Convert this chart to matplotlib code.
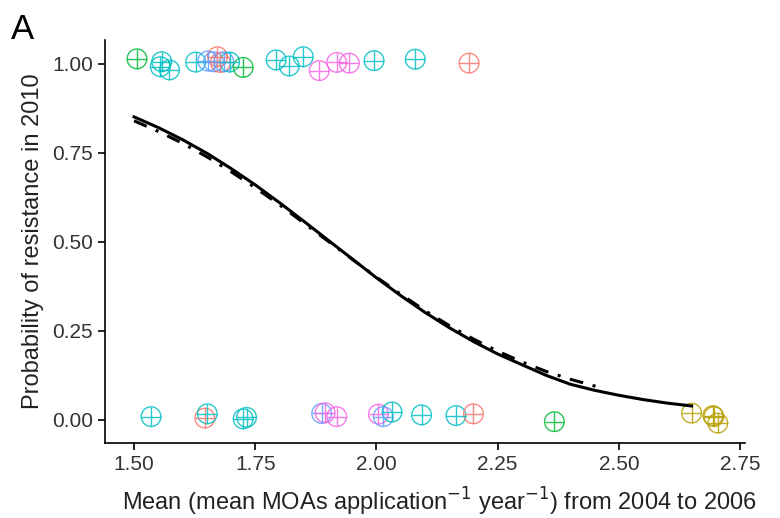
import numpy as np
import matplotlib.pyplot as plt

plt.rcParams['font.family'] = ['Liberation Sans', 'DejaVu Sans']

# group colours (ggplot hue palette)
palette = {'a': '#F8766D', 'b': '#B79F00', 'c': '#00BA38',
           'd': '#00BFC4', 'e': '#619CFF', 'f': '#F564E3'}

pts_x = [1.506, 1.557, 1.554, 1.573, 1.627, 1.652, 1.664, 1.672, 1.678,
         1.685, 1.697, 1.725, 1.793, 1.820, 1.849, 1.882, 1.918, 1.944,
         1.995, 2.080, 2.191,
         1.535, 1.646, 1.651, 1.725, 1.732, 1.887, 1.894, 1.918, 2.004,
         2.014, 2.032, 2.093, 2.164, 2.200, 2.367, 2.650, 2.694, 2.696,
         2.704]
pts_y = [1.014, 1.006, 0.992, 0.983, 1.005, 1.008, 1.006, 1.020, 1.004,
         1.006, 1.005, 0.990, 1.011, 0.994, 1.020, 0.981, 1.004, 1.002,
         1.009, 1.013, 1.002,
         0.009, 0.005, 0.017, 0.003, 0.007, 0.018, 0.020, 0.009, 0.016,
         0.009, 0.022, 0.014, 0.012, 0.017, -0.005, 0.019, 0.012, 0.009,
         -0.009]
pts_grp = ['c', 'd', 'd', 'd', 'd', 'e', 'e', 'a', 'a',
           'e', 'd', 'c', 'd', 'd', 'd', 'f', 'f', 'f',
           'd', 'd', 'a',
           'd', 'a', 'd', 'd', 'd', 'e', 'f', 'f', 'f',
           'e', 'd', 'd', 'd', 'a', 'c', 'b', 'b', 'b',
           'b']

# fitted curves
fit_x = [1.50, 1.55, 1.60, 1.65, 1.70, 1.75, 1.80, 1.85, 1.90, 1.95, 2.00, 2.05,
         2.10, 2.15, 2.20, 2.25, 2.30, 2.35, 2.40, 2.45, 2.50, 2.55, 2.60, 2.65]
fit_y = [0.851, 0.821, 0.787, 0.749, 0.706, 0.660, 0.610, 0.558, 0.505, 0.452, 0.399, 0.349,
         0.302, 0.259, 0.220, 0.185, 0.155, 0.125, 0.100, 0.083, 0.069, 0.057, 0.047, 0.039]
alt_x = [1.50, 1.55, 1.60, 1.65, 1.70, 1.75, 1.80, 1.85, 1.90, 1.95, 2.00, 2.05,
         2.10, 2.15, 2.20, 2.25, 2.30, 2.35, 2.40, 2.45, 2.467]
alt_y = [0.840, 0.810, 0.777, 0.739, 0.697, 0.652, 0.604, 0.553, 0.502, 0.451, 0.401, 0.353,
         0.307, 0.265, 0.227, 0.193, 0.163, 0.136, 0.114, 0.095, 0.089]

fig = plt.figure(figsize=(7.8, 5.18), dpi=100)
ax = fig.add_axes([0.1346, 0.1448, 0.8204, 0.778])

cols = [palette[g] for g in pts_grp]
ax.scatter(pts_x, pts_y, s=200, facecolors='none', edgecolors=cols, linewidths=1.0, alpha=0.85, zorder=2)
ax.scatter(pts_x, pts_y, s=200, marker='+', c=cols, linewidths=1.0, alpha=0.85, zorder=2)

ax.plot(fit_x, fit_y, color='black', lw=2.2, solid_joinstyle='round', zorder=3)
ax.plot(alt_x, alt_y, color='black', lw=2.2, linestyle=(0, (4.5, 3.2, 1.0, 3.2)),
        dash_capstyle='butt', zorder=3)

ax.set_xlim(1.44, 2.76)
ax.set_ylim(-0.065, 1.067)
ax.set_xticks([1.50, 1.75, 2.00, 2.25, 2.50, 2.75])
ax.set_xticklabels(['1.50', '1.75', '2.00', '2.25', '2.50', '2.75'])
ax.set_yticks([0.00, 0.25, 0.50, 0.75, 1.00])
ax.set_yticklabels(['0.00', '0.25', '0.50', '0.75', '1.00'])

for side in ['top', 'right']:
    ax.spines[side].set_visible(False)
for side in ['left', 'bottom']:
    ax.spines[side].set_linewidth(1.2)
ax.tick_params(length=5, width=1.2, labelsize=15, labelcolor='#333333')

ax.set_xlabel('Mean (mean MOAs application$^{-1}$ year$^{-1}$) from 2004 to 2006',
              fontsize=17, color='#222222')
ax.xaxis.set_label_coords(0.522, -0.105)
ax.set_ylabel('Probability of resistance in 2010', fontsize=17, color='#222222', labelpad=6)

fig.text(0.014, 0.925, 'A', fontsize=25, color='black')

fig.savefig('out.png', dpi=100)
